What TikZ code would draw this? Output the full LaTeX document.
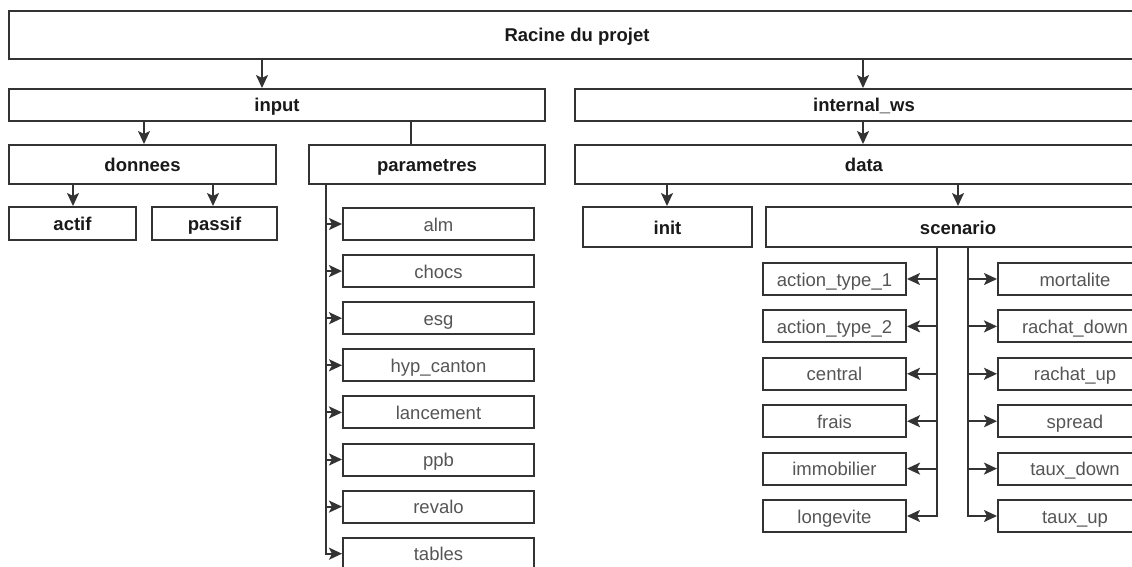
\documentclass[tikz,border=0pt]{standalone}
\usepackage{fontspec}
\setmainfont{Liberation Sans}
\usetikzlibrary{arrows.meta}
\definecolor{linegray}{HTML}{333333}
\definecolor{leafgray}{HTML}{555555}
\tikzset{dirbox/.style={draw=linegray,line width=2pt,inner sep=0pt,text height=15pt,text depth=1pt,font=\fontsize{18.5}{22}\selectfont\bfseries,text=black!90},
         leafbox/.style={dirbox,font=\fontsize{18.5}{22}\selectfont,text=leafgray,minimum height=32pt},
         arr/.style={draw=linegray,line width=2pt,-{Stealth[length=13pt,width=12pt,inset=3pt]}}}

\begin{document}
\begin{tikzpicture}[x=1pt,y=-1pt]
  \useasboundingbox (0,0) rectangle (1132,567);
  % top levels
  \node[dirbox,minimum width=1136pt,minimum height=48pt] (root) at (577,35) {Racine du projet};
  \node[dirbox,minimum width=536pt,minimum height=32pt] (input) at (277,105) {input};
  \node[dirbox,minimum width=578pt,minimum height=32pt] (iws) at (864,105) {internal\_ws};
  \node[dirbox,minimum width=267pt,minimum height=39pt] (donnees) at (142.5,164.5) {donnees};
  \node[dirbox,minimum width=236pt,minimum height=39pt] (parametres) at (427,164.5) {parametres};
  \node[dirbox,minimum width=578pt,minimum height=39pt] (data) at (864,164.5) {data};
  \node[dirbox,minimum width=127pt,minimum height=33pt] (actif) at (72.5,223.5) {actif};
  \node[dirbox,minimum width=125pt,minimum height=33pt] (passif) at (214.5,223.5) {passif};
  \node[dirbox,minimum width=169pt,minimum height=40pt] (init) at (667.5,227) {init};
  \node[dirbox,minimum width=384pt,minimum height=40pt] (scenario) at (958,227) {scenario};
  % arrows between folders
  \coordinate (xin) at (262,0); \coordinate (xws) at (863,0);
  \coordinate (xdo) at (144,0); \coordinate (xpa) at (411,0);
  \coordinate (xac) at (73,0); \coordinate (xps) at (213,0);
  \coordinate (xini) at (667,0); \coordinate (xsc) at (958,0);
  \draw[arr] (xin |- root.south) -- (xin |- input.north);
  \draw[arr] (xws |- root.south) -- (xws |- iws.north);
  \draw[arr] (xdo |- input.south) -- (xdo |- donnees.north);
  \draw[draw=linegray,line width=2pt] (xpa |- input.south) -- (xpa |- parametres.north);
  \draw[arr] (xac |- donnees.south) -- (xac |- actif.north);
  \draw[arr] (xps |- donnees.south) -- (xps |- passif.north);
  \draw[arr] (xws |- iws.south) -- (xws |- data.north);
  \draw[arr] (xini |- data.south) -- (xini |- init.north);
  \draw[arr] (xsc |- data.south) -- (xsc |- scenario.north);
  % parametres files
  \foreach \n/\t [count=\i from 0] in {alm/alm,chocs/chocs,esg/esg,hyp/hyp\_canton,lanc/lancement,ppb/ppb,revalo/revalo,tables/tables}
    \node[leafbox,minimum width=191pt] (\n) at (438.5,224+47.1*\i) {\t};
  \coordinate (pspine) at (326,184);
  \foreach \n in {alm,chocs,esg,hyp,lanc,ppb,revalo,tables}
    \draw[arr] (pspine) |- (\n.west);
  % scenario files
  \foreach \n/\t [count=\i from 0] in {at1/action\_type\_1,at2/action\_type\_2,central/central,frais/frais,immo/immobilier,longe/longevite}
    \node[leafbox,minimum width=143pt] (\n) at (834.5,279+47.4*\i) {\t};
  \foreach \n/\t [count=\i from 0] in {mort/mortalite,rd/rachat\_down,ru/rachat\_up,spread/spread,td/taux\_down,tu/taux\_up}
    \node[leafbox,minimum width=154pt] (\n) at (1075,279+47.4*\i) {\t};
  \coordinate (sleft) at (937,247); \coordinate (sright) at (968,247);
  \foreach \n in {at1,at2,central,frais,immo,longe}
    \draw[arr] (sleft) |- (\n.east);
  \foreach \n in {mort,rd,ru,spread,td,tu}
    \draw[arr] (sright) |- (\n.west);
\end{tikzpicture}
\end{document}
